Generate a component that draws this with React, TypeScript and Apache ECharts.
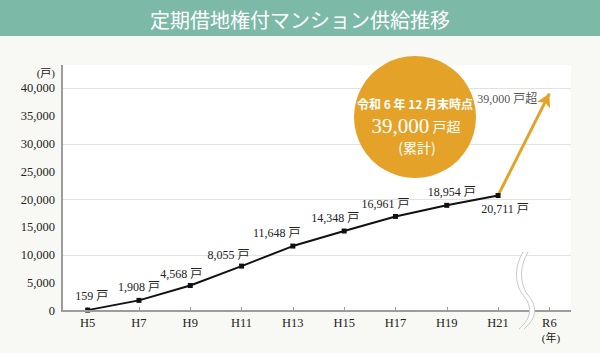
import React, { useEffect, useRef } from "react";
import * as echarts from "echarts";

const categories = ["H5", "H7", "H9", "H11", "H13", "H15", "H17", "H19", "H21", "R6"];
const supplyUnits = [159, 1908, 4568, 8055, 11648, 14348, 16961, 18954, 20711];
const cumulativeR6 = 39000;
const yMin = 0;
const yMax = 40000;
const yLabelStep = 5000;
const yGridStep = 10000;
const titleText = "定期借地権付マンション供給推移";
const unitY = "(戸)";
const unitX = "(年)";
const badgeLine1 = "令和 6 年 12 月末時点";
const badgeLine3 = "(累計)";

const SERIF = "'Liberation Serif', 'Noto Sans CJK JP', serif";
const CJK = "'Noto Sans CJK JP', sans-serif";
const BG = "#f8f9f4";
const ORANGE = "#e5a229";
const AXIS = "#9c9c9c";

const fmt = (v: number) => v.toLocaleString("en-US");

const brkLeft = "M523,252 C514,268 515,282 522,294 C533,306 532,318 519,329";
const brkRight = "M528,252 C519,268 520,282 527,294 C538,306 537,318 524,329";
const brkFill =
  "M523,252 C514,268 515,282 522,294 C533,306 532,318 519,329 L524,329 C537,318 538,306 527,294 C520,282 519,268 528,252 Z";

let registered = false;
function registerShapes() {
  if (registered) return;
  registered = true;
  echarts.graphic.registerShape("brkFill", echarts.graphic.extendPath(brkFill, {}));
  echarts.graphic.registerShape("brkLeft", echarts.graphic.extendPath(brkLeft, {}));
  echarts.graphic.registerShape("brkRight", echarts.graphic.extendPath(brkRight, {}));
}

export default function App() {
  const ref = useRef<HTMLDivElement>(null);
  useEffect(() => {
    document.body.style.margin = "0";
    registerShapes();
    const chart = echarts.init(ref.current!, undefined, { renderer: "svg" });

    const labelOffsets: [number, number][] = [
      [4, -5.5],
      [0, -4.5],
      [-9, -3.5],
      [-13, -2.5],
      [-16, -4.5],
      [-9, -4.5],
      [-10, -3.5],
      [5, -4.5],
      [7, 4.5],
    ];

    const lineData = supplyUnits.map((v, i) => ({
      value: v,
      label: {
        position: i === supplyUnits.length - 1 ? "bottom" : "top",
        offset: labelOffsets[i],
      },
    }));

    const cx = 415;
    const option: any = {
      animation: false,
      backgroundColor: BG,
      grid: { left: 62, right: 25, top: 88, bottom: 42, containLabel: false },
      xAxis: {
        type: "category",
        data: categories,
        boundaryGap: true,
        axisLine: { show: false },
        axisTick: { show: true, inside: true, length: 4, alignWithLabel: true, lineStyle: { color: AXIS, width: 1 } },
        axisLabel: { fontFamily: SERIF, fontSize: 12.5, color: "#222", margin: 6 },
        splitLine: { show: false },
      },
      yAxis: [
        {
          type: "value",
          min: yMin,
          max: yMax,
          interval: yLabelStep,
          axisLine: { show: false },
          axisTick: { show: false },
          splitLine: { show: false },
          axisLabel: { fontFamily: SERIF, fontSize: 12.5, color: "#222", margin: 7, formatter: (v: number) => fmt(v) },
        },
        {
          type: "value",
          min: yMin,
          max: yMax,
          interval: yGridStep,
          position: "left",
          axisLine: { show: false },
          axisTick: { show: false },
          axisLabel: { show: false },
          splitLine: { show: true, lineStyle: { color: "#e2e2e2", width: 1 } },
        },
      ],
      series: [
        {
          type: "line",
          data: lineData,
          yAxisIndex: 0,
          symbol: "rect",
          symbolSize: 5,
          z: 5,
          lineStyle: { color: "#111", width: 2 },
          itemStyle: { color: "#111" },
          label: {
            show: true,
            distance: 0,
            fontFamily: SERIF,
            fontSize: 12,
            color: "#222",
            formatter: (p: any) => fmt(p.value) + " 戸",
          },
          markLine: {
            silent: true,
            animation: false,
            symbol: ["none", "arrow"],
            symbolSize: [11, 13],
            lineStyle: { color: ORANGE, width: 3, type: "solid" },
            label: { show: false },
            emphasis: { disabled: true },
            data: [
              [
                { coord: [categories[8], supplyUnits[8]] },
                { coord: [categories[9], cumulativeR6] },
              ],
            ],
          },
        },
        {
          type: "scatter",
          data: [[categories[9], cumulativeR6]],
          symbolSize: 0,
          silent: true,
          label: {
            show: true,
            position: "left",
            distance: 12,
            offset: [0, 5],
            fontFamily: SERIF,
            fontSize: 12,
            color: "#222",
            formatter: (p: any) => fmt(p.value[1]) + " 戸超",
          },
        },
      ],
      graphic: [
        { type: "rect", z: -10, shape: { x: 62, y: 65, width: 509, height: 246 }, style: { fill: "#ffffff" }, silent: true },
        { type: "rect", z: 20, shape: { x: 571, y: 80, width: 29, height: 232 }, style: { fill: BG }, silent: true },
        { type: "line", z: 20, shape: { x1: 62, y1: 65, x2: 62, y2: 312 }, style: { stroke: AXIS, lineWidth: 2 }, silent: true },
        { type: "line", z: 20, shape: { x1: 61, y1: 311, x2: 571, y2: 311 }, style: { stroke: AXIS, lineWidth: 2 }, silent: true },
        { type: "brkFill", z: 21, x: 0, y: 0, style: { fill: "#ffffff", stroke: null }, silent: true },
        { type: "brkLeft", z: 22, x: 0, y: 0, style: { fill: null, stroke: "#c8c8c8", lineWidth: 1 }, silent: true },
        { type: "brkRight", z: 22, x: 0, y: 0, style: { fill: null, stroke: "#c8c8c8", lineWidth: 1 }, silent: true },
        { type: "rect", z: 30, shape: { x: 0, y: 0, width: 600, height: 36 }, style: { fill: "#7db9a7" }, silent: true },
        {
          type: "text", z: 31, x: 300, y: 19,
          style: { text: titleText, fill: "#ffffff", font: `20px ${CJK}`, align: "center", verticalAlign: "middle" },
          silent: true,
        },
        {
          type: "text", z: 31, x: 55, y: 73,
          style: { text: unitY, fill: "#222", font: `11px ${SERIF}`, align: "right", verticalAlign: "middle" },
          silent: true,
        },
        {
          type: "text", z: 31, x: 551, y: 338,
          style: { text: unitX, fill: "#222", font: `11px ${SERIF}`, align: "center", verticalAlign: "middle" },
          silent: true,
        },
        { type: "circle", z: 40, shape: { cx, cy: 117, r: 61 }, style: { fill: ORANGE }, silent: true },
        {
          type: "text", z: 41, x: cx, y: 103,
          style: { text: badgeLine1, fill: "#ffffff", font: `bold 12px ${CJK}`, align: "center", verticalAlign: "middle" },
          silent: true,
        },
        {
          type: "text", z: 41, x: cx + 1, y: 126,
          style: {
            text: `{a|${fmt(cumulativeR6)}} {b|戸超}`,
            align: "center",
            verticalAlign: "middle",
            rich: {
              a: { fontFamily: SERIF, fontSize: 21, lineHeight: 21, fill: "#ffffff", color: "#ffffff" },
              b: { fontFamily: CJK, fontSize: 14, lineHeight: 21, fill: "#ffffff", color: "#ffffff" },
            },
          },
          silent: true,
        },
        {
          type: "text", z: 41, x: cx + 2, y: 147,
          style: { text: badgeLine3, fill: "#ffffff", font: `14px ${CJK}`, lineHeight: 14, align: "center", verticalAlign: "middle" },
          silent: true,
        },
      ],
    };
    chart.setOption(option);
    return () => chart.dispose();
  }, []);
  return (
    <div
      ref={ref}
      style={{ position: "fixed", left: 0, top: 0, width: 600, height: 353 }}
    />
  );
}
